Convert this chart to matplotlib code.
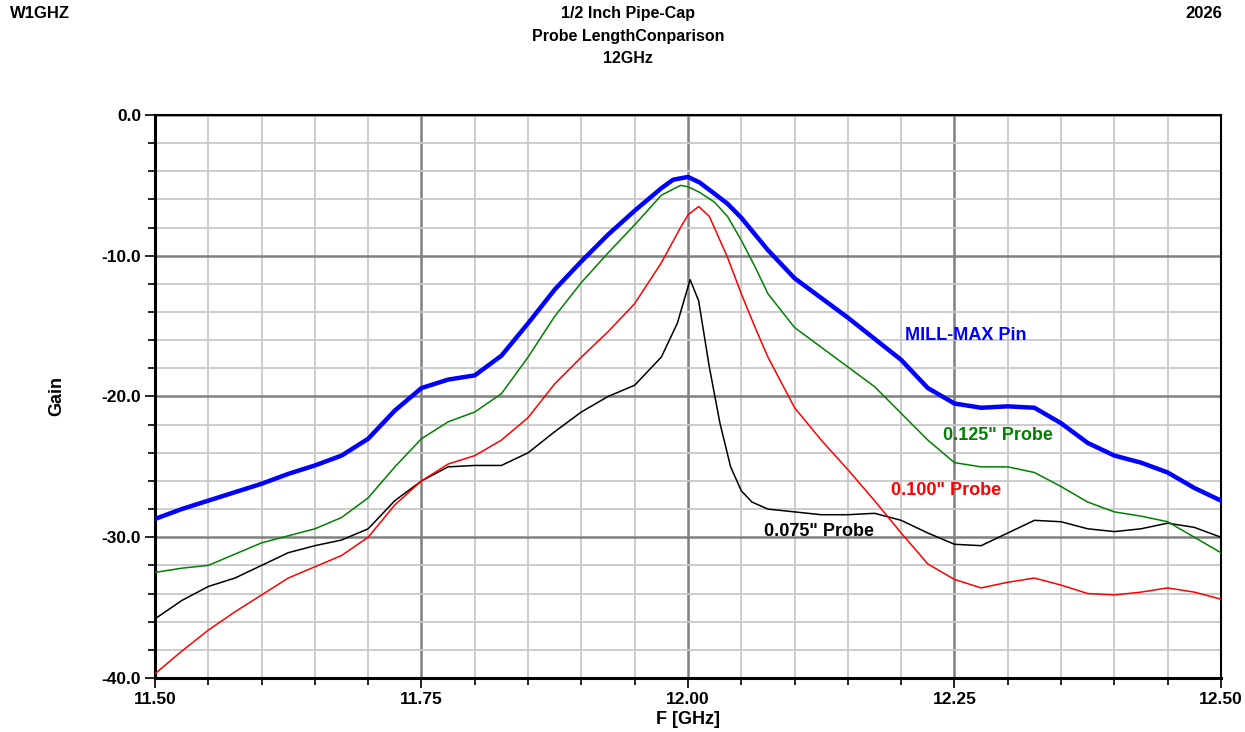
import matplotlib
matplotlib.use("Agg")
import matplotlib.pyplot as plt
from matplotlib.ticker import MultipleLocator, FormatStrFormatter

plt.rcParams['font.family'] = ['Liberation Sans', 'DejaVu Sans']

# ---- data ----
freq_mm = [11.500, 11.525, 11.550, 11.575, 11.600, 11.625, 11.650, 11.675, 11.700, 11.725,
           11.750, 11.775, 11.800, 11.825, 11.850, 11.875, 11.900, 11.925, 11.950, 11.975,
           11.986, 12.000, 12.011, 12.025, 12.037, 12.050, 12.075, 12.100, 12.125, 12.150,
           12.175, 12.200, 12.225, 12.250, 12.275, 12.300, 12.325, 12.350, 12.375, 12.400,
           12.425, 12.450, 12.475, 12.500]
millmax = [-28.7, -28.0, -27.4, -26.8, -26.2, -25.5, -24.9, -24.2, -23.0, -21.0,
           -19.4, -18.8, -18.5, -17.1, -14.8, -12.4, -10.4, -8.5, -6.8, -5.2,
           -4.6, -4.4, -4.8, -5.6, -6.3, -7.3, -9.6, -11.6, -13.0, -14.4,
           -15.9, -17.4, -19.4, -20.5, -20.8, -20.7, -20.8, -21.9, -23.3, -24.2,
           -24.7, -25.4, -26.5, -27.4]

freq125 = [11.500, 11.525, 11.550, 11.575, 11.600, 11.625, 11.650, 11.675, 11.700, 11.725,
           11.750, 11.775, 11.800, 11.825, 11.850, 11.875, 11.900, 11.925, 11.950, 11.975,
           11.993, 12.000, 12.011, 12.025, 12.037, 12.050, 12.063, 12.075, 12.100, 12.125,
           12.150, 12.175, 12.200, 12.225, 12.250, 12.275, 12.300, 12.325, 12.350, 12.375,
           12.400, 12.425, 12.450, 12.475, 12.500]
probe125 = [-32.5, -32.2, -32.0, -31.2, -30.4, -29.9, -29.4, -28.6, -27.2, -25.0,
            -23.0, -21.8, -21.1, -19.8, -17.2, -14.3, -11.9, -9.8, -7.8, -5.7,
            -5.0, -5.1, -5.5, -6.2, -7.2, -8.9, -10.8, -12.7, -15.1, -16.5,
            -17.9, -19.3, -21.2, -23.1, -24.7, -25.0, -25.0, -25.4, -26.4, -27.5,
            -28.2, -28.5, -28.9, -30.0, -31.1]

freq100 = [11.500, 11.525, 11.550, 11.575, 11.600, 11.625, 11.650, 11.675, 11.700, 11.725,
           11.750, 11.775, 11.800, 11.825, 11.850, 11.875, 11.900, 11.925, 11.950, 11.975,
           11.993, 12.000, 12.010, 12.020, 12.037, 12.050, 12.063, 12.075, 12.100, 12.125,
           12.150, 12.175, 12.200, 12.225, 12.250, 12.275, 12.300, 12.325, 12.350, 12.375,
           12.400, 12.425, 12.450, 12.475, 12.500]
probe100 = [-39.7, -38.1, -36.6, -35.3, -34.1, -32.9, -32.1, -31.3, -30.0, -27.7,
            -26.0, -24.8, -24.2, -23.1, -21.5, -19.1, -17.2, -15.4, -13.4, -10.5,
            -8.0, -7.1, -6.5, -7.2, -10.1, -12.7, -15.1, -17.2, -20.8, -23.1,
            -25.2, -27.4, -29.7, -31.9, -33.0, -33.6, -33.2, -32.9, -33.4, -34.0,
            -34.1, -33.9, -33.6, -33.9, -34.4]

freq075 = [11.500, 11.525, 11.550, 11.575, 11.600, 11.625, 11.650, 11.675, 11.700, 11.725,
           11.750, 11.775, 11.800, 11.825, 11.850, 11.875, 11.900, 11.925, 11.950, 11.975,
           11.990, 12.002, 12.010, 12.020, 12.030, 12.040, 12.050, 12.060, 12.075, 12.100,
           12.125, 12.150, 12.175, 12.200, 12.225, 12.250, 12.275, 12.300, 12.325, 12.350,
           12.375, 12.400, 12.425, 12.450, 12.475, 12.500]
probe075 = [-35.8, -34.5, -33.5, -32.9, -32.0, -31.1, -30.6, -30.2, -29.4, -27.4,
            -26.0, -25.0, -24.9, -24.9, -24.0, -22.5, -21.1, -20.0, -19.2, -17.2,
            -14.8, -11.7, -13.2, -17.9, -21.9, -25.0, -26.7, -27.5, -28.0, -28.2,
            -28.4, -28.4, -28.3, -28.8, -29.7, -30.5, -30.6, -29.7, -28.8, -28.9,
            -29.4, -29.6, -29.4, -29.0, -29.3, -30.0]

labels = ["MILL-MAX Pin", "0.125\" Probe", "0.100\" Probe", "0.075\" Probe"]
label_pos = [(12.204, -15.7), (12.239, -22.8), (12.190, -26.7), (12.071, -29.6)]

# ---- figure ----
fig = plt.figure(figsize=(12.45, 7.32), dpi=100)
ax = fig.add_axes([0.1245, 0.0738, 0.8562, 0.7691])

ax.plot(freq075, probe075, color='black', lw=1.1, zorder=3)
ax.plot(freq100, probe100, color='#ff0000', lw=1.1, zorder=3)
ax.plot(freq125, probe125, color='#008000', lw=1.1, zorder=3)
ax.plot(freq_mm, millmax, color='#0000ff', lw=3.2, zorder=4)

colors = ['#0000ff', '#008000', '#ff0000', 'black']
for lab, (fx, gy), c in zip(labels, label_pos, colors):
    ax.text(fx, gy, lab, color=c, fontsize=13, fontweight='bold', ha='left', va='center')

ax.set_xlim(11.5, 12.5)
ax.set_ylim(-40, 0)
ax.xaxis.set_major_locator(MultipleLocator(0.25))
ax.xaxis.set_minor_locator(MultipleLocator(0.05))
ax.yaxis.set_major_locator(MultipleLocator(10))
ax.yaxis.set_minor_locator(MultipleLocator(2))
ax.xaxis.set_major_formatter(FormatStrFormatter('%.2f'))
ax.yaxis.set_major_formatter(FormatStrFormatter('%.1f'))

ax.grid(which='minor', color='#c8c8c8', lw=1.3, zorder=0)
ax.grid(which='major', color='#808080', lw=1.8, zorder=1)
ax.set_axisbelow(True)

ax.tick_params(which='both', direction='out', color='black', width=1.2)
ax.tick_params(which='major', length=7, labelsize=12.5, pad=3)
ax.tick_params(which='minor', length=5)
for lab in ax.get_xticklabels() + ax.get_yticklabels():
    lab.set_fontweight('bold')

for side in ['left', 'bottom']:
    ax.spines[side].set_linewidth(2.2)
for side in ['top', 'right']:
    ax.spines[side].set_linewidth(1.5)

ax.set_xlabel('F [GHz]', fontsize=13, fontweight='bold', labelpad=3)
ax.set_ylabel('Gain', fontsize=13, fontweight='bold', labelpad=26)

hdr_fam = ['Liberation Sans Narrow', 'Liberation Sans', 'DejaVu Sans']
fig.text(0.008, 0.981, 'W1GHZ', fontsize=12, fontweight='bold', ha='left', va='center', family=hdr_fam)
fig.text(0.982, 0.981, '2026', fontsize=12, fontweight='bold', ha='right', va='center', family=hdr_fam)
for i, t in enumerate(['1/2 Inch Pipe-Cap', 'Probe LengthConparison', '12GHz']):
    fig.text(0.5045, 0.981 - i * 0.0305, t, fontsize=11.5, fontweight='bold', ha='center',
             va='center', family=hdr_fam)

fig.savefig('out.png', dpi=100)
